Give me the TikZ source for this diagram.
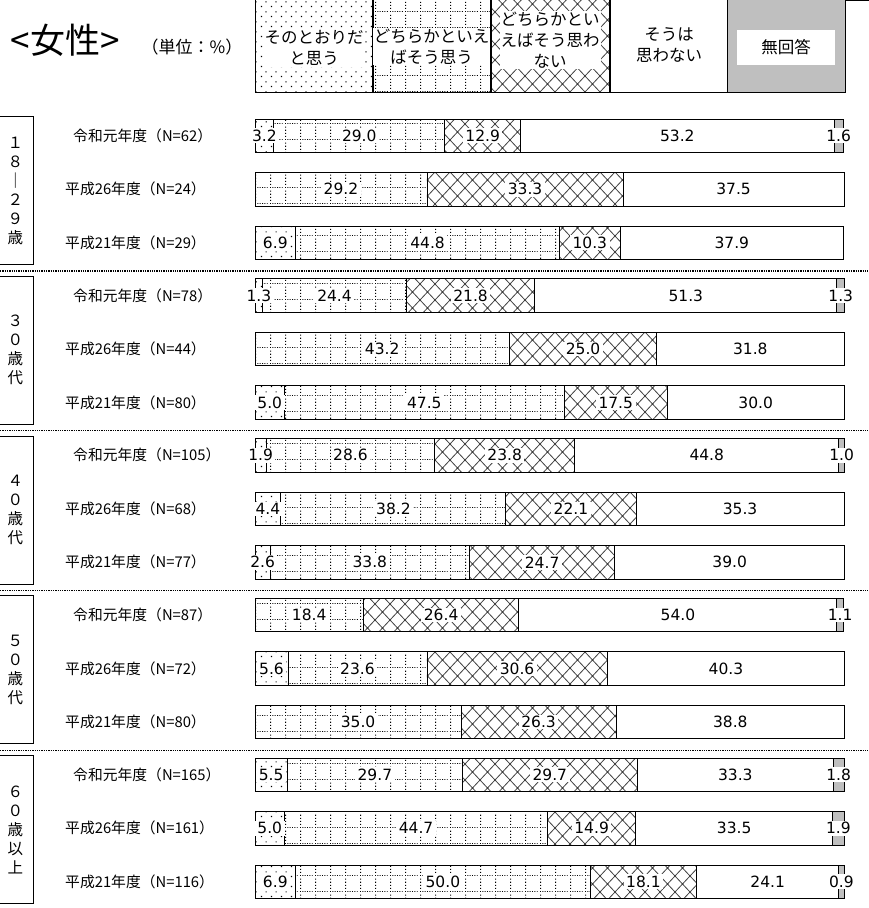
\documentclass[tikz,border=0pt]{standalone}
\usepackage{fontspec}
\setmainfont{Noto Sans CJK JP}
\newfontfamily\numfont{DejaVu Sans}
\usetikzlibrary{patterns}

% fill patterns of the four answers
\pgfdeclarepatternformonly{sparsedots}{\pgfpointorigin}{\pgfqpoint{10pt}{10pt}}{\pgfqpoint{10pt}{10pt}}{
  \pgfpathrectangle{\pgfqpoint{1pt}{1pt}}{\pgfqpoint{1.2pt}{1.2pt}}
  \pgfpathrectangle{\pgfqpoint{6pt}{6pt}}{\pgfqpoint{1.2pt}{1.2pt}}
  \pgfusepath{fill}
}
\pgfdeclarepatternformonly{dotgrid}{\pgfpointorigin}{\pgfqpoint{15pt}{16pt}}{\pgfqpoint{15pt}{16pt}}{
  \pgfpathrectangle{\pgfqpoint{0pt}{0pt}}{\pgfqpoint{1pt}{1pt}}
  \pgfpathrectangle{\pgfqpoint{2.5pt}{0pt}}{\pgfqpoint{1pt}{1pt}}
  \pgfpathrectangle{\pgfqpoint{5pt}{0pt}}{\pgfqpoint{1pt}{1pt}}
  \pgfpathrectangle{\pgfqpoint{7.5pt}{0pt}}{\pgfqpoint{1pt}{1pt}}
  \pgfpathrectangle{\pgfqpoint{10pt}{0pt}}{\pgfqpoint{1pt}{1pt}}
  \pgfpathrectangle{\pgfqpoint{12.5pt}{0pt}}{\pgfqpoint{1pt}{1pt}}
  \pgfpathrectangle{\pgfqpoint{0pt}{3.2pt}}{\pgfqpoint{1.1pt}{1.1pt}}
  \pgfpathrectangle{\pgfqpoint{0pt}{6.4pt}}{\pgfqpoint{1.1pt}{1.1pt}}
  \pgfpathrectangle{\pgfqpoint{0pt}{9.6pt}}{\pgfqpoint{1.1pt}{1.1pt}}
  \pgfpathrectangle{\pgfqpoint{0pt}{12.8pt}}{\pgfqpoint{1.1pt}{1.1pt}}
  \pgfusepath{fill}
}
\pgfdeclarepatternformonly{xhatch}{\pgfqpoint{-1pt}{-1pt}}{\pgfqpoint{16pt}{17pt}}{\pgfqpoint{15pt}{16pt}}{
  \pgfsetlinewidth{0.8pt}
  \pgfpathmoveto{\pgfqpoint{0pt}{0pt}}\pgfpathlineto{\pgfqpoint{15pt}{16pt}}
  \pgfpathmoveto{\pgfqpoint{0pt}{16pt}}\pgfpathlineto{\pgfqpoint{15pt}{0pt}}
  \pgfusepath{stroke}
}

\begin{document}
\begin{tikzpicture}[
  x=1pt, y=-1pt,
  seg/.style={draw, line width=0.9pt},
  agree/.style={seg, pattern=sparsedots},
  ratheragree/.style={seg, pattern=dotgrid},
  ratherdis/.style={seg, pattern=xhatch, pattern color=black!75},
  disagree/.style={seg, fill=white},
  noans/.style={seg, fill=gray!50},
  val/.style={fill=white, inner xsep=2.5pt, inner ysep=1.5pt, font=\numfont\fontsize{15.5}{15.5}\selectfont},
  rowlab/.style={anchor=west, inner sep=0pt, font=\fontsize{14.8}{15}\selectfont},
  grpbox/.style={draw, line width=0.9pt, minimum width=35pt, minimum height=148pt,
    align=center, inner sep=0pt, font=\fontsize{15.5}{19}\selectfont},
  legbox/.style={draw, line width=0.9pt, minimum width=118pt, minimum height=94pt, inner sep=0pt},
  legtxt/.style={fill=white, align=center, inner sep=1pt, font=\fontsize{16.5}{21}\selectfont},
  sep/.style={densely dotted, line width=1.3pt}
]
\useasboundingbox (0,0) rectangle (868,908);

% Title
\node[font=\fontsize{35}{35}\selectfont] (title) at (65,40) {<女性>};
\node[font=\fontsize{17}{17}\selectfont] (unit) at (192,47) {（単位：\%）};

% Legend
\node[legbox, pattern=sparsedots] (k1) at (314,45) {};
\node[legbox, pattern=dotgrid] (k2) at (431.5,45) {};
\node[legbox, pattern=xhatch, pattern color=black!75] (k3) at (550,45) {};
\node[legbox] (k4) at (669,45) {};
\node[legbox, fill=gray!50] (k5) at (786.5,45) {};
\node[legtxt] (t1) at (314,48) {そのとおりだ\\と思う};
\node[legtxt] (t2) at (431.5,46.5) {どちらかといえ\\ばそう思う};
\node[legtxt] (t3) at (550,40) {どちらかとい\\えばそう思わ\\ない};
\node[legtxt, fill=none] (t4) at (669,45) {そうは\\思わない};
\node[legtxt, minimum width=98pt, minimum height=35pt] (t5) at (786,47.5) {無回答};
\draw[line width=0.9pt] ([yshift=-3pt]k5.north east) -- ++(23,0);

% Age groups
\node[grpbox] (g1) at (15.5,190.5) {１\\８\\｜\\２\\９\\歳};
\node[grpbox] (g2) at (15.5,350.25) {３\\０\\歳\\代};
\node[grpbox] (g3) at (15.5,510) {４\\０\\歳\\代};
\node[grpbox] (g4) at (15.5,669.75) {５\\０\\歳\\代};
\node[grpbox] (g5) at (15.5,829.5) {６\\０\\歳\\以\\上};

% Separators
\foreach \s in {0,...,3}
  \draw[sep] (0,{271+159.75*\s}) -- (868,{271+159.75*\s});

% Bars
\foreach \g/\r/\lx/\lab/\a/\b/\c/\d/\e in {
  0/0/73/令和元年度（N=62）/3.2/29.0/12.9/53.2/1.6,
  0/1/65/平成26年度（N=24）/0/29.2/33.3/37.5/0,
  0/2/65/平成21年度（N=29）/6.9/44.8/10.3/37.9/0,
  1/0/73/令和元年度（N=78）/1.3/24.4/21.8/51.3/1.3,
  1/1/65/平成26年度（N=44）/0/43.2/25.0/31.8/0,
  1/2/65/平成21年度（N=80）/5.0/47.5/17.5/30.0/0,
  2/0/73/令和元年度（N=105）/1.9/28.6/23.8/44.8/1.0,
  2/1/65/平成26年度（N=68）/4.4/38.2/22.1/35.3/0,
  2/2/65/平成21年度（N=77）/2.6/33.8/24.7/39.0/0,
  3/0/73/令和元年度（N=87）/0/18.4/26.4/54.0/1.1,
  3/1/65/平成26年度（N=72）/5.6/23.6/30.6/40.3/0,
  3/2/65/平成21年度（N=80）/0/35.0/26.3/38.8/0,
  4/0/73/令和元年度（N=165）/5.5/29.7/29.7/33.3/1.8,
  4/1/65/平成26年度（N=161）/5.0/44.7/14.9/33.5/1.9,
  4/2/65/平成21年度（N=116）/6.9/50.0/18.1/24.1/0.9} {
  \pgfmathsetmacro\yt{119+159.75*\g+53.5*\r}
  \pgfmathsetmacro\yb{\yt+33.5}
  \pgfmathsetmacro\ym{\yt+16.75}
  \pgfmathsetmacro\xa{255+5.89*\a}
  \pgfmathsetmacro\xb{\xa+5.89*\b}
  \pgfmathsetmacro\xc{\xb+5.89*\c}
  \pgfmathsetmacro\xd{\xc+5.89*\d}
  \pgfmathsetmacro\xe{\xd+5.89*\e}
  \node[rowlab] (lab\g\r) at (\lx,\ym) {\lab};
  \ifdim\a pt>0pt \draw[agree] (255,\yt) rectangle (\xa,\yb); \fi
  \draw[ratheragree] (\xa,\yt) rectangle (\xb,\yb);
  \draw[ratherdis] (\xb,\yt) rectangle (\xc,\yb);
  \draw[disagree] (\xc,\yt) rectangle (\xd,\yb);
  \ifdim\e pt>0pt \draw[noans] (\xd,\yt) rectangle (\xe,\yb); \fi
  \ifdim\a pt>0pt \node[val] (a\g\r) at ({(255+\xa)/2},\ym) {\a}; \fi
  \node[val] (b\g\r) at ({(\xa+\xb)/2},\ym) {\b};
  \node[val] (c\g\r) at ({(\xb+\xc)/2},\ym) {\c};
  \node[val, fill=none] (d\g\r) at ({(\xc+\xd)/2},\ym) {\d};
  \ifdim\e pt>0pt \node[val] (e\g\r) at ({(\xd+\xe)/2},\ym) {\e}; \fi
}
\end{tikzpicture}
\end{document}
